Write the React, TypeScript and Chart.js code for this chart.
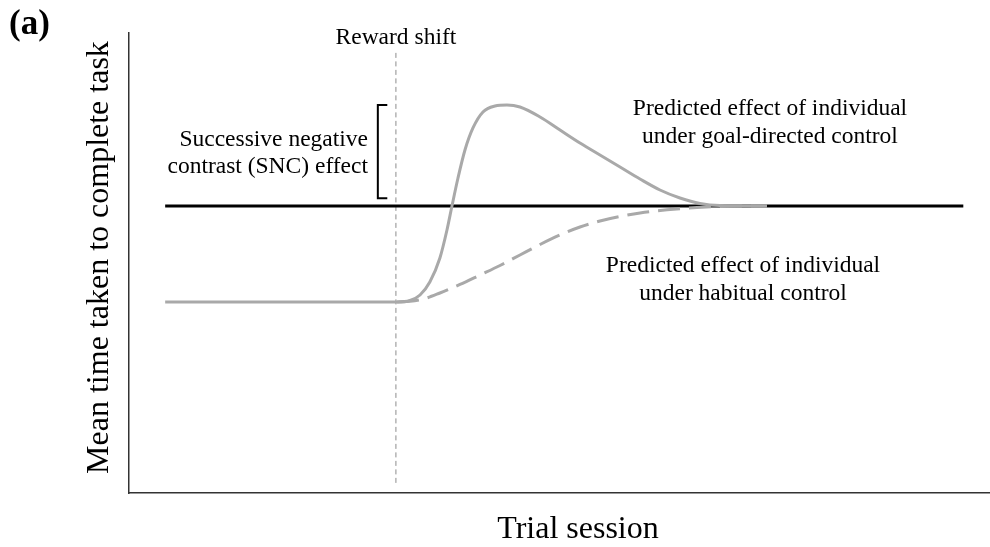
import React, { useEffect, useRef } from "react";
import { Chart, registerables } from "chart.js";

Chart.register(...registerables);

// Data (x: trial session, 0-100; y: mean time, 0-100)
const goalX = [4.2, 31.13, 32.64, 33.8, 34.94, 36.11, 36.93, 37.51, 38.21, 39.02, 39.95, 41.11, 42.51, 43.9, 45.41, 47.74, 50.06, 52.38, 54.7, 57.03, 59.35, 61.67, 63.99, 66.32, 68.64, 74.1];
const goalY = [41.52, 41.52, 41.85, 43.04, 45.87, 51.09, 57.17, 62.39, 68.48, 74.57, 79.35, 82.83, 84.13, 84.35, 83.91, 81.74, 78.91, 76.09, 73.48, 70.87, 68.26, 65.87, 64.13, 62.93, 62.48, 62.39];
const habitX = [31.13, 32.64, 34.39, 36.11, 38.44, 40.77, 43.09, 45.41, 47.74, 50.06, 52.38, 54.7, 57.03, 59.35, 62.49, 65.97, 69.69, 74.1];
const habitY = [41.52, 41.67, 42.28, 43.48, 45.33, 47.39, 49.46, 51.74, 54.02, 56.09, 57.83, 59.13, 60.11, 60.87, 61.57, 62.07, 62.33, 62.39];
const refX = [4.2, 96.9];
const refY = [62.39, 62.39];
const shiftX = 31.0;
const shiftYRange = [2.2, 95.9];
const bracketX = [30.0, 28.9, 28.9, 30.0];
const bracketY = [84.35, 84.35, 64.1, 64.1];

const toPts = (xs: number[], ys: number[]) => xs.map((x, i) => ({ x, y: ys[i] }));

const SERIF = "'Liberation Serif', 'Times New Roman', serif";
const GRAY = "#a9a9a9";

const textPlugin = {
  id: "texts",
  afterDatasetsDraw(chart: any) {
    const ctx = chart.ctx as CanvasRenderingContext2D;
    const xs = chart.scales.x;
    ctx.save();
    ctx.fillStyle = "#000";
    ctx.font = `bold 35px ${SERIF}`;
    ctx.textAlign = "left";
    ctx.textBaseline = "alphabetic";
    ctx.fillText("(a)", 9, 34);
    ctx.font = `23.5px ${SERIF}`;
    ctx.textAlign = "center";
    ctx.fillText("Reward shift", xs.getPixelForValue(shiftX), 44);
    ctx.textAlign = "right";
    ctx.fillText("Successive negative", 368, 146);
    ctx.fillText("contrast (SNC) effect", 368, 173);
    ctx.textAlign = "center";
    ctx.fillText("Predicted effect of individual", 770, 115);
    ctx.fillText("under goal-directed control", 770, 143);
    ctx.fillText("Predicted effect of individual", 743, 272);
    ctx.fillText("under habitual control", 743, 300);
    ctx.font = `32px ${SERIF}`;
    ctx.textAlign = "center";
    ctx.fillText("Trial session", 578, 538);
    ctx.save();
    ctx.translate(108, 257.5);
    ctx.rotate(-Math.PI / 2);
    ctx.fillText("Mean time taken to complete task", 0, 0);
    ctx.restore();
    ctx.restore();
  },
};

export default function App() {
  const ref = useRef<HTMLCanvasElement>(null);
  useEffect(() => {
    if (!ref.current) return;
    const chart = new Chart(ref.current, {
      type: "line",
      data: {
        datasets: [
          {
            data: toPts(goalX, goalY),
            borderColor: GRAY,
            borderWidth: 3,
            pointRadius: 0,
            cubicInterpolationMode: "monotone",
            fill: false,
          },
          {
            data: toPts(habitX, habitY),
            borderColor: GRAY,
            borderWidth: 3,
            borderDash: [22, 9],
            pointRadius: 0,
            cubicInterpolationMode: "monotone",
            fill: false,
          },
          {
            data: toPts(refX, refY),
            borderColor: "#000",
            borderWidth: 3,
            pointRadius: 0,
            fill: false,
          },
          {
            data: toPts(bracketX, bracketY),
            borderColor: "#000",
            borderWidth: 2,
            pointRadius: 0,
            tension: 0,
            fill: false,
          },
          {
            data: [
              { x: shiftX, y: shiftYRange[0] },
              { x: shiftX, y: shiftYRange[1] },
            ],
            borderColor: "#8c8c8c",
            borderWidth: 1,
            borderDash: [5, 3.5],
            pointRadius: 0,
            fill: false,
          },
        ],
      },
      options: {
        animation: false,
        responsive: false,
        events: [],
        layout: { padding: { left: 129, top: 33, right: 0, bottom: 54 } },
        plugins: { legend: { display: false }, tooltip: { enabled: false } },
        scales: {
          x: {
            type: "linear",
            min: 0,
            max: 100,
            grid: { display: false, drawTicks: false },
            ticks: { display: false },
            border: { display: true, color: "#333", width: 1.5 },
          },
          y: {
            type: "linear",
            min: 0,
            max: 100,
            grid: { display: false, drawTicks: false },
            ticks: { display: false },
            border: { display: true, color: "#333", width: 1.5 },
          },
        },
      },
      plugins: [textPlugin],
    });
    return () => chart.destroy();
  }, []);
  return (
    <canvas
      ref={ref}
      width={990}
      height={547}
      style={{ position: "fixed", left: 0, top: 0, width: 990, height: 547, display: "block", background: "#fff" }}
    />
  );
}
